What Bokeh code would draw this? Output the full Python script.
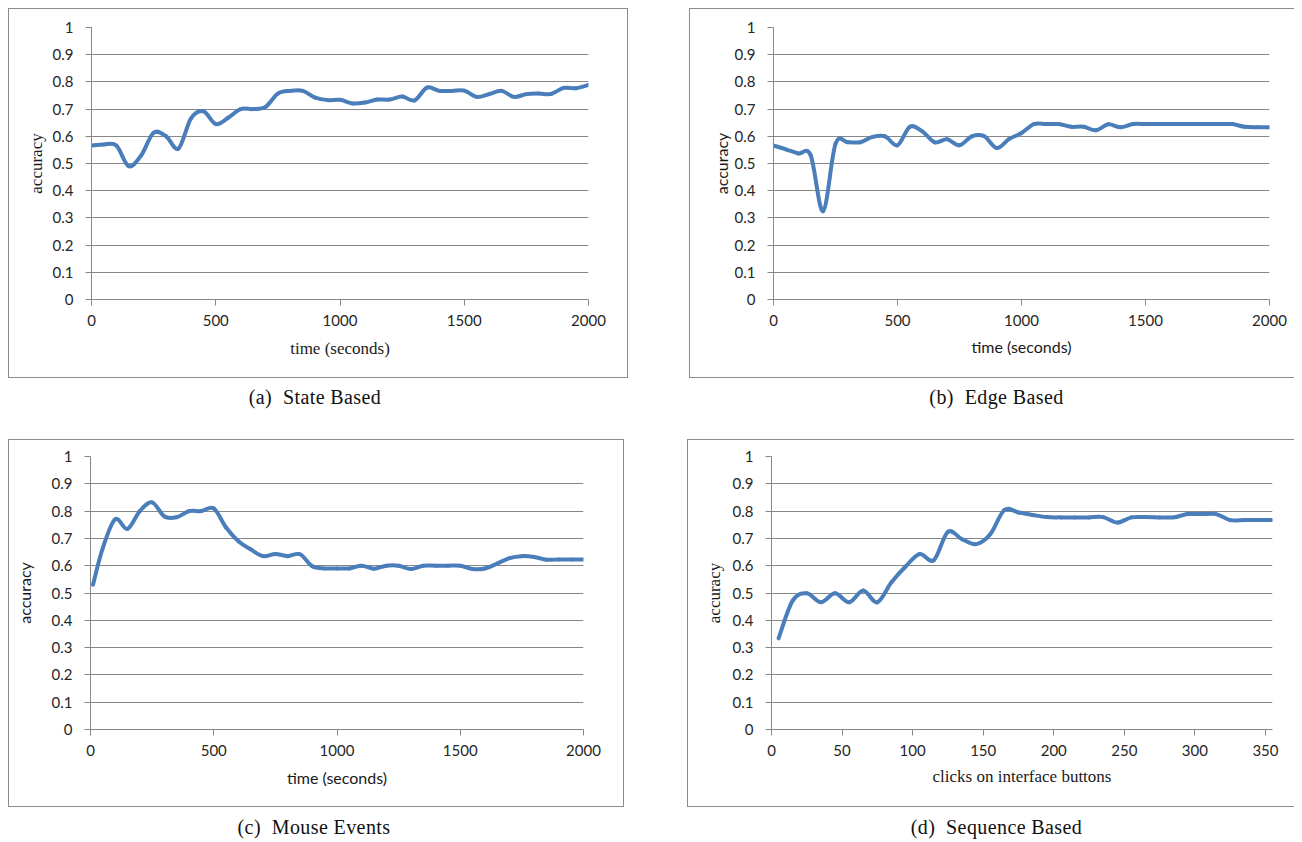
from bokeh.plotting import figure
from bokeh.models import Range1d, FixedTicker, CustomJSTickFormatter, Div, Spacer, ColumnDataSource
from bokeh.layouts import row, column
from bokeh.embed import file_html
from bokeh.resources import INLINE

# ---------------- data ----------------
y_ticks = [0, 0.1, 0.2, 0.3, 0.4, 0.5, 0.6, 0.7, 0.8, 0.9, 1]
time_ticks = [0, 500, 1000, 1500, 2000]
click_ticks = [0, 50, 100, 150, 200, 250, 300, 350]

state_x = [0, 50, 100, 150, 200, 250, 300, 350, 400, 450, 500, 550, 600, 650, 700,
           750, 800, 850, 900, 950, 1000, 1050, 1100, 1150, 1200, 1250, 1300, 1350,
           1400, 1450, 1500, 1550, 1600, 1650, 1700, 1750, 1800, 1850, 1900, 1950, 2000]
state_y = [0.566, 0.570, 0.566, 0.490, 0.530, 0.613, 0.600, 0.555, 0.665, 0.692,
           0.645, 0.668, 0.700, 0.700, 0.708, 0.757, 0.767, 0.767, 0.742, 0.733,
           0.734, 0.721, 0.724, 0.735, 0.735, 0.746, 0.732, 0.779, 0.767, 0.767,
           0.768, 0.745, 0.755, 0.767, 0.745, 0.755, 0.757, 0.756, 0.778, 0.777, 0.789]

edge_x = [0, 50, 100, 150, 200, 250, 300, 350, 400, 450, 500, 550, 600, 650, 700,
          750, 800, 850, 900, 950, 1000, 1050, 1100, 1150, 1200, 1250, 1300, 1350,
          1400, 1450, 1500, 1550, 1600, 1650, 1700, 1750, 1800, 1850, 1900, 1950, 2000]
edge_y = [0.566, 0.552, 0.537, 0.530, 0.325, 0.572, 0.578, 0.578, 0.598, 0.600,
          0.567, 0.635, 0.618, 0.578, 0.589, 0.567, 0.600, 0.600, 0.557, 0.590,
          0.612, 0.645, 0.645, 0.645, 0.635, 0.635, 0.622, 0.644, 0.633, 0.645,
          0.645, 0.645, 0.645, 0.645, 0.645, 0.645, 0.645, 0.645, 0.635, 0.633, 0.633]

mouse_x = [10, 50, 100, 150, 200, 250, 300, 350, 400, 450, 500, 550, 600, 650, 700,
           750, 800, 850, 900, 950, 1000, 1050, 1100, 1150, 1200, 1250, 1300, 1350,
           1400, 1450, 1500, 1550, 1600, 1650, 1700, 1750, 1800, 1850, 1900, 1950, 2000]
mouse_y = [0.530, 0.665, 0.770, 0.735, 0.800, 0.832, 0.780, 0.778, 0.800, 0.800,
           0.810, 0.740, 0.690, 0.660, 0.635, 0.643, 0.635, 0.642, 0.598, 0.590,
           0.590, 0.590, 0.600, 0.589, 0.600, 0.600, 0.588, 0.600, 0.600, 0.600,
           0.600, 0.588, 0.590, 0.608, 0.628, 0.635, 0.632, 0.622, 0.623, 0.623, 0.623]

seq_x = [5, 15, 25, 35, 45, 55, 65, 75, 85, 95, 105, 115, 125, 135, 145, 155, 165,
         175, 185, 195, 205, 215, 225, 235, 245, 255, 265, 275, 285, 295, 305, 315,
         325, 335, 345, 355]
seq_y = [0.334, 0.472, 0.499, 0.466, 0.499, 0.466, 0.509, 0.466, 0.539, 0.597,
         0.643, 0.620, 0.724, 0.697, 0.679, 0.715, 0.804, 0.795, 0.786, 0.778,
         0.777, 0.777, 0.777, 0.778, 0.758, 0.777, 0.778, 0.777, 0.777, 0.789,
         0.789, 0.789, 0.767, 0.767, 0.767, 0.767]

# ---------------- style ----------------
LINE = "#4a7ebb"
GRID = "#878787"
BOX = "#8c8c8c"
SANS = "Lato"
SERIF = "Liberation Serif"


def smoothed_source(x, y):
    """Excel-style smoothed line: one cubic Bezier per pair of neighbouring points."""
    n = len(x)
    d = {k: [] for k in ("x0", "y0", "x1", "y1", "cx0", "cy0", "cx1", "cy1")}
    for i in range(n - 1):
        a = max(i - 1, 0)
        b = min(i + 2, n - 1)
        d["x0"].append(x[i]); d["y0"].append(y[i])
        d["x1"].append(x[i + 1]); d["y1"].append(y[i + 1])
        d["cx0"].append(x[i] + (x[i + 1] - x[a]) / 6.0)
        d["cy0"].append(y[i] + (y[i + 1] - y[a]) / 6.0)
        d["cx1"].append(x[i + 1] - (x[b] - x[i]) / 6.0)
        d["cy1"].append(y[i + 1] - (y[b] - y[i]) / 6.0)
    return ColumnDataSource(d)


def panel(x, y, xmax, xticks, xlabel, label_font, bl, br, bt, bb, fw, fh, box_style,
          ylab_standoff, xlab_standoff):
    p = figure(frame_width=fw, frame_height=fh,
               min_border_left=bl, min_border_right=br,
               min_border_top=bt, min_border_bottom=bb,
               x_range=Range1d(0, xmax), y_range=Range1d(0, 1),
               output_backend="svg", toolbar_location=None, tools="",
               background_fill_color="white", border_fill_color="white",
               styles=box_style)
    p.outline_line_color = None

    p.xgrid.grid_line_color = None
    p.ygrid.grid_line_color = GRID
    p.ygrid.grid_line_width = 1

    p.bezier(x0="x0", y0="y0", x1="x1", y1="y1", cx0="cx0", cy0="cy0",
             cx1="cx1", cy1="cy1", source=smoothed_source(x, y),
             line_color=LINE, line_width=4, line_cap="round")

    p.yaxis.ticker = FixedTicker(ticks=y_ticks)
    p.yaxis.formatter = CustomJSTickFormatter(code="return (Math.round(tick*10)/10).toString();")
    p.xaxis.ticker = FixedTicker(ticks=xticks)

    for ax in (p.xaxis[0], p.yaxis[0]):
        ax.axis_line_color = GRID
        ax.major_tick_line_color = GRID
        ax.major_tick_in = 0
        ax.major_tick_out = 6
        ax.minor_tick_line_color = None
        ax.major_label_text_font = SANS
        ax.major_label_text_font_size = "15px"
        ax.major_label_text_color = "#262626"
        ax.axis_label_text_font = label_font
        ax.axis_label_text_font_style = "normal"
        ax.axis_label_text_color = "#1a1a1a"
        ax.axis_label_text_font_size = "16px" if label_font == SANS else "17px"

    p.yaxis.axis_label = "accuracy"
    p.xaxis.axis_label = xlabel
    p.yaxis.major_label_standoff = 12
    p.xaxis.major_label_standoff = 9
    p.yaxis.axis_label_standoff = ylab_standoff
    p.xaxis.axis_label_standoff = xlab_standoff
    return p


full_box = {"border": "1px solid " + BOX}
cut_box = {"border-top": "1px solid " + BOX, "border-bottom": "1px solid " + BOX,
           "border-left": "1px solid " + BOX}

pa = panel(state_x, state_y, 2000, time_ticks, "time (seconds)", SERIF,
           82, 41, 18, 80, 495, 270, full_box, 4, 10)
pb = panel(edge_x, edge_y, 2000, time_ticks, "time (seconds)", SANS,
           83, 26, 18, 80, 495, 270, cut_box, 1, 8)
pc = panel(mouse_x, mouse_y, 2000, time_ticks, "time (seconds)", SANS,
           81, 42, 16, 79, 491, 271, full_box, 15, 9)
pd = panel(seq_x, seq_y, 355, click_ticks, "clicks on interface buttons", SERIF,
           83, 23, 16, 79, 500, 271, cut_box, 6, 8)


def caption(text, width, height, pad_top, shift):
    html = ('<div style="width:%dpx; text-align:center; font-family:\'Liberation Serif\'; '
            'font-size:20px; line-height:20px; letter-spacing:0.4px; color:#111; '
            'padding-top:%dpx; margin-left:%dpx;">%s</div>' % (width, pad_top, shift, text))
    return Div(text=html, width=width, height=height)


ca = caption("(a)&nbsp;&nbsp;State Based", 620, 51, 4, -8)
cb = caption("(b)&nbsp;&nbsp;Edge Based", 605, 51, 4, 0)
cc = caption("(c)&nbsp;&nbsp;Mouse Events", 616, 26, 5, -7)
cd = caption("(d)&nbsp;&nbsp;Sequence Based", 607, 26, 5, 1)

layout = column(
    row(column(pa, ca), Spacer(width=51, height=10), column(pb, cb)),
    row(column(pc, cc), Spacer(width=53, height=10), column(pd, cd)),
    margin=(8, 0, 0, 8),
)

open("out.html", "w").write(file_html(layout, INLINE))
